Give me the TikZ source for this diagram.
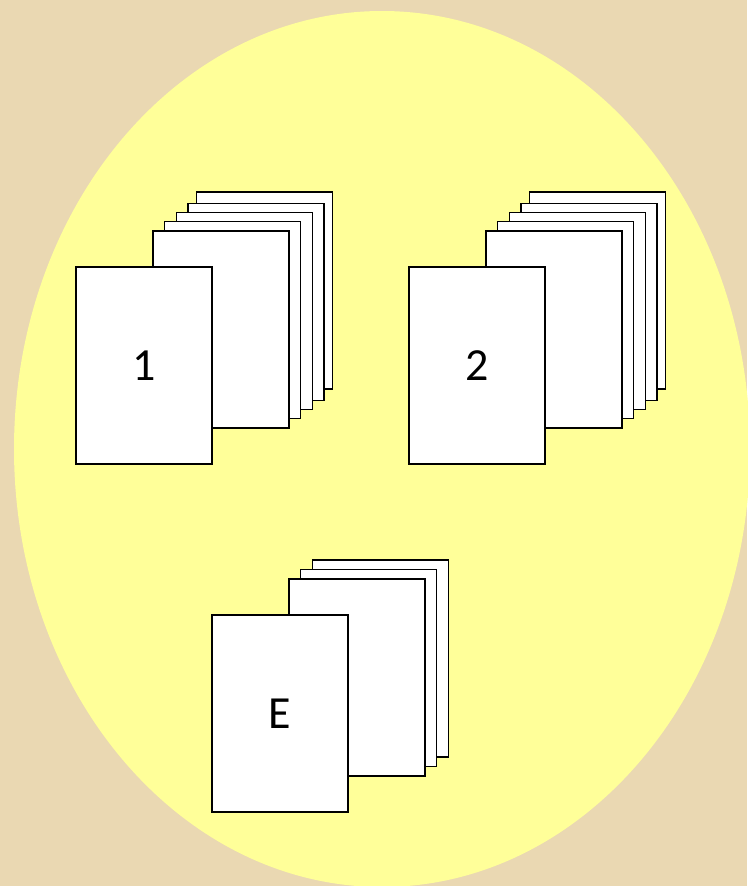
\documentclass[tikz,border=0pt]{standalone}
\usepackage{fontspec}
\setmainfont{Carlito}
\usetikzlibrary{positioning}

\definecolor{woodbg}{RGB}{234,216,178}
\definecolor{eggyellow}{RGB}{255,255,153}

\begin{document}
\begin{tikzpicture}[
        x=1pt, y=-1pt,
        font=\fontsize{46}{54}\selectfont,
        page/.style={draw, fill=white, line width=1.4pt, minimum width=136pt,
            minimum height=197pt, inner sep=0pt, outer sep=0pt},
    ]
        % background and egg
        \useasboundingbox (0,0) rectangle (747,886);
        \fill[woodbg] (0,0) rectangle (747,886);
        \fill[eggyellow] (382,449) ellipse [x radius=368, y radius=438];

        % Stack 1
        \node[page] (one6) at (264.5,290.5) {};
        \node[page] (one5) at (256,302) {};
        \node[page] (one4) at (244.5,311) {};
        \node[page] (one3) at (232.5,320) {};
        \node[page] (one2) at (221,329.5) {};
        \node[page] (one) at (144,365.5) {1};

        % Stack 2
        \node[page] (two6) at (597.5,290.5) {};
        \node[page] (two5) at (589,302) {};
        \node[page] (two4) at (577.5,311) {};
        \node[page] (two3) at (565.5,320) {};
        \node[page] (two2) at (554,329.5) {};
        \node[page] (two) at (477,365.5) {2};

        % Stack E
        \node[page] (ee4) at (380.5,658.5) {};
        \node[page] (ee3) at (368.5,668) {};
        \node[page] (ee2) at (357,677.5) {};
        \node[page] (ee) at (280,713.5) {E};
    \end{tikzpicture}
\end{document}
